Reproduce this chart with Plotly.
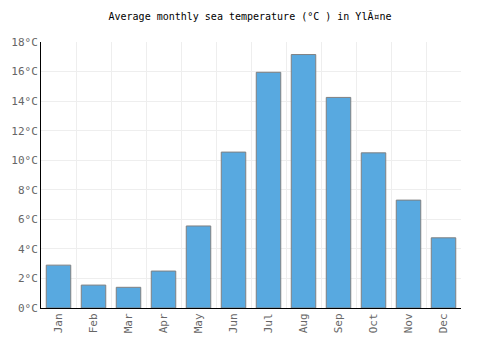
import plotly.graph_objects as go

months = ["Jan", "Feb", "Mar", "Apr", "May", "Jun", "Jul", "Aug", "Sep", "Oct", "Nov", "Dec"]
temps = [2.9, 1.55, 1.4, 2.5, 5.55, 10.55, 15.95, 17.15, 14.25, 10.5, 7.3, 4.75]
ytick_vals = [0, 2, 4, 6, 8, 10, 12, 14, 16, 18]
ytick_text = [f"{v}°C" for v in ytick_vals]

font = "DejaVu Sans Mono"

fig = go.Figure(go.Bar(
    x=months, y=temps,
    marker=dict(color="#58a9e0", line=dict(color="#808080", width=1)),
))

fig.update_layout(
    width=500, height=350,
    margin=dict(l=41, r=39, t=42, b=42),
    paper_bgcolor="white", plot_bgcolor="white",
    bargap=0.3,
    showlegend=False,
    title=dict(text="Average monthly sea temperature (°C ) in YlÃ¤ne",
               x=0.5, xanchor="center", y=0.952, yanchor="middle",
               font=dict(family=font, size=10, color="#000")),
    font=dict(family=font, size=11, color="#666"),
)
fig.update_xaxes(
    type="category", tickson="boundaries", tickangle=-90,
    showgrid=True, gridcolor="#eeeeee", gridwidth=1,
    showline=True, linecolor="#000", linewidth=1,
    ticks="", tickfont=dict(family=font, size=11, color="#666"),
)
fig.update_yaxes(
    range=[0, 18], tickvals=ytick_vals, ticktext=ytick_text,
    showgrid=True, gridcolor="#eeeeee", gridwidth=1,
    showline=True, linecolor="#000", linewidth=1,
    zeroline=False, ticks="",
    tickfont=dict(family=font, size=11, color="#666"),
)

fig.write_html("out.html")
